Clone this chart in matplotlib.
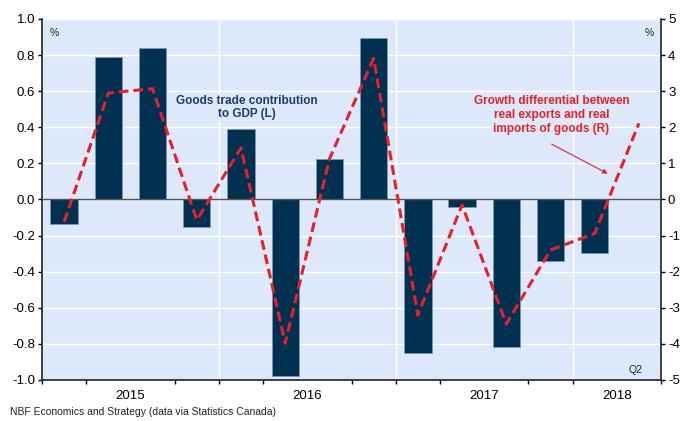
import numpy as np
import matplotlib
matplotlib.use('Agg')
import matplotlib.pyplot as plt

plt.rcParams['font.family'] = ['Liberation Sans', 'DejaVu Sans']
plt.rcParams['axes.unicode_minus'] = False

# 2015Q1 .. 2018Q2
quarters = ['2015Q1', '2015Q2', '2015Q3', '2015Q4',
            '2016Q1', '2016Q2', '2016Q3', '2016Q4',
            '2017Q1', '2017Q2', '2017Q3', '2017Q4',
            '2018Q1', '2018Q2']
# goods trade contribution to GDP (left axis), no value yet for 2018Q2
trade_contrib = [-0.135, 0.788, 0.839, -0.15, 0.392, -0.978, 0.224,
                 0.893, -0.852, -0.043, -0.815, -0.339, -0.298]
# growth differential real exports vs real imports (right axis)
growth_diff = [-0.62, 2.95, 3.07, -0.57, 1.43, -3.98, 1.12,
               3.91, -3.2, -0.15, -3.45, -1.4, -0.94, 2.11]
year_labels = ['2015', '2016', '2017', '2018']
left_ticks = ['-1.0', '-0.8', '-0.6', '-0.4', '-0.2', '0.0',
              '0.2', '0.4', '0.6', '0.8', '1.0']

navy = '#003150'
red = '#e8202a'
bg = '#dde9fb'

fig = plt.figure(figsize=(6.89, 4.21), dpi=100)
ax = fig.add_axes([0.061, 0.0974, 0.8984, 0.8575])
ax.set_facecolor(bg)

x = np.arange(len(quarters))
ax.bar(x[:len(trade_contrib)], trade_contrib, width=0.62, color=navy,
       edgecolor='#7f9bb3', linewidth=0.5, zorder=3)
ax.axhline(0, color='#555555', linewidth=1.0, zorder=4)

ax.set_xlim(-0.5, len(quarters) - 0.5)
ax.set_ylim(-1.0, 1.0)
ax.set_yticks(np.linspace(-1.0, 1.0, 11))
ax.set_yticklabels(left_ticks)
ax.grid(axis='y', color='white', linewidth=1.0, zorder=1)

# quarter ticks on boundaries, year labels in the middle of each year
ax.set_xticks(np.arange(-0.5, len(quarters)), minor=True)
ax.set_xticks([1.5, 5.5, 9.5, 12.5])
ax.set_xticklabels(year_labels)
ax.tick_params(axis='x', which='major', length=0, pad=7, labelsize=9.5)
ax.tick_params(axis='x', which='minor', length=3, width=1, direction='out')
ax.tick_params(axis='y', length=3, width=1, labelsize=9.5, pad=2)
for xv in [3.5, 7.5, 11.5]:
    ax.axvline(xv, color='white', linewidth=1.0, zorder=1)

for s in ['top', 'right']:
    ax.spines[s].set_visible(False)
for s in ['left', 'bottom']:
    ax.spines[s].set_linewidth(1.2)
    ax.spines[s].set_color('#222222')

ax2 = ax.twinx()
ax2.plot(x, growth_diff, color=red, linestyle=(0, (3.2, 1.6)), linewidth=2.2,
         zorder=5)
ax2.set_ylim(-5, 5)
ax2.set_yticks(range(-5, 6))
ax2.tick_params(axis='y', length=3, width=1, labelsize=9.5, pad=2)
for s in ['top', 'left', 'bottom']:
    ax2.spines[s].set_visible(False)
ax2.spines['right'].set_linewidth(1.2)
ax2.spines['right'].set_color('#222222')

ax.text(0.012, 0.975, '%', transform=ax.transAxes, fontsize=7.5,
        va='top', ha='left', color='#222222')
ax.text(0.988, 0.975, '%', transform=ax.transAxes, fontsize=7.5,
        va='top', ha='right', color='#222222')
ax.text(0.97, 0.015, 'Q2', transform=ax.transAxes, fontsize=7.5,
        va='bottom', ha='right', color='#222222')

ax.text(4.14, 0.51, 'Goods trade contribution\nto GDP (L)', color='#1d3a72',
        fontsize=8.5, fontweight='bold', ha='center', va='center',
        linespacing=1.2, zorder=6)
ax2.text(11.02, 2.34, 'Growth differential between\nreal exports and real\nimports of goods (R)',
         color=red, fontsize=8.5, fontweight='bold', ha='center',
         va='center', linespacing=1.2, zorder=6)
ax2.annotate('', xy=(12.35, 0.68), xytext=(10.97, 1.57),
             arrowprops=dict(arrowstyle='-|>', color=red, lw=0.8,
                             mutation_scale=7), zorder=6)

fig.text(10 / 689, 1 - 412 / 421, 'NBF Economics and Strategy (data via Statistics Canada)',
         fontsize=7.5, ha='left', va='center', color='#222222')

fig.savefig('out.png', dpi=100)
